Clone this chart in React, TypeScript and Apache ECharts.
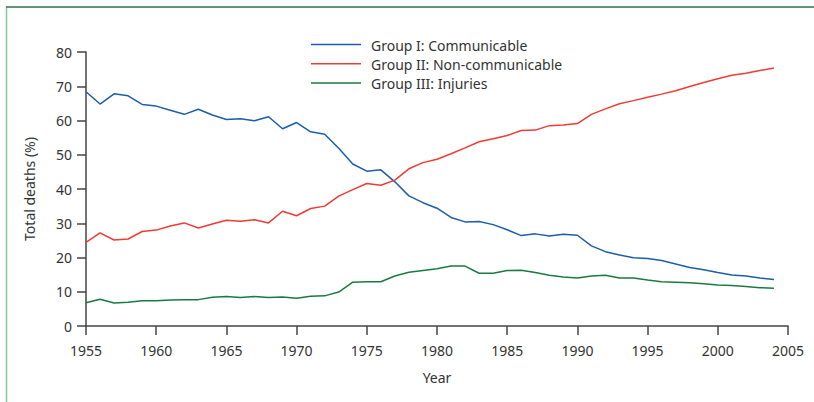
import React, { useEffect, useRef } from "react";
import * as echarts from "echarts";

const years: number[] = [];
for (let y = 1955; y <= 2004; y++) years.push(y);

const communicable = [
  68.4, 64.8, 67.8, 67.2, 64.7, 64.2, 63.0, 61.8, 63.3, 61.6,
  60.3, 60.5, 59.9, 61.1, 57.6, 59.4, 56.7, 56.0, 51.9, 47.3,
  45.2, 45.6, 42.1, 38.0, 36.0, 34.4, 31.7, 30.4, 30.5, 29.6,
  28.1, 26.4, 26.9, 26.3, 26.8, 26.5, 23.4, 21.7, 20.7, 19.9,
  19.7, 19.1, 18.1, 17.1, 16.4, 15.6, 14.9, 14.6, 14.0, 13.6,
];
const nonCommunicable = [
  24.4, 27.2, 25.1, 25.4, 27.6, 28.0, 29.2, 30.1, 28.6, 29.8,
  30.9, 30.6, 31.0, 30.1, 33.5, 32.2, 34.3, 35.0, 37.9, 39.8,
  41.6, 41.1, 42.6, 45.9, 47.7, 48.7, 50.3, 52.0, 53.8, 54.7,
  55.6, 57.1, 57.2, 58.5, 58.7, 59.1, 61.8, 63.4, 64.9, 65.8,
  66.8, 67.7, 68.7, 69.9, 71.1, 72.2, 73.2, 73.8, 74.6, 75.3,
];
const injuries = [
  6.8, 7.8, 6.7, 6.9, 7.4, 7.4, 7.6, 7.7, 7.7, 8.4,
  8.6, 8.3, 8.6, 8.3, 8.5, 8.1, 8.7, 8.8, 9.9, 12.8,
  12.9, 12.9, 14.6, 15.7, 16.2, 16.7, 17.5, 17.5, 15.4, 15.4,
  16.2, 16.3, 15.6, 14.8, 14.3, 14.0, 14.6, 14.8, 14.0, 14.0,
  13.4, 12.9, 12.8, 12.6, 12.3, 12.0, 11.8, 11.5, 11.2, 11.0,
];

const seriesNames = [
  "Group I: Communicable",
  "Group II: Non-communicable",
  "Group III: Injuries",
];
const seriesColors = ["#1b5eaa", "#ef3b33", "#1b7a43"];
const seriesData = [communicable, nonCommunicable, injuries];

const FONT = "'Noto Sans', 'DejaVu Sans', sans-serif";
const TEXT = "#333333";
const AXIS = "#444444";

export default function App() {
  const ref = useRef<HTMLDivElement>(null);
  useEffect(() => {
    if (!ref.current) return;
    const chart = echarts.init(ref.current, null, { renderer: "svg" });

    const legendGraphics: any[] = [];
    seriesNames.forEach((name, i) => {
      const y = 44.5 + i * 19.3;
      legendGraphics.push({
        type: "line",
        shape: { x1: 311, y1: y, x2: 361, y2: y },
        style: { stroke: seriesColors[i], lineWidth: 1.5 },
      });
      legendGraphics.push({
        type: "text",
        x: 371,
        y: y + 0.5,
        style: {
          text: name,
          fill: TEXT,
          font: `14px ${FONT}`,
          verticalAlign: "middle",
          align: "left",
        },
      });
    });

    chart.setOption({
      animation: false,
      backgroundColor: "#ffffff",
      textStyle: { fontFamily: FONT },
      grid: { left: 86, right: 26, top: 52, bottom: 76, containLabel: false },
      xAxis: {
        type: "value",
        min: 1955,
        max: 2005,
        interval: 5,
        name: "Year",
        nameLocation: "middle",
        nameGap: 44,
        nameTextStyle: { fontFamily: FONT, fontSize: 14, color: TEXT },
        axisLine: { show: true, lineStyle: { color: AXIS, width: 1.5 } },
        axisTick: { show: true, length: 9, lineStyle: { color: AXIS, width: 1.5 } },
        axisLabel: {
          margin: 17,
          fontFamily: FONT,
          fontSize: 14,
          color: TEXT,
          formatter: (v: number) => String(v),
        },
        splitLine: { show: false },
      },
      yAxis: {
        type: "value",
        min: 0,
        max: 80,
        interval: 10,
        name: "Total deaths (%)",
        nameLocation: "middle",
        nameGap: 50,
        nameTextStyle: { fontFamily: FONT, fontSize: 14, color: TEXT },
        axisLine: { show: true, lineStyle: { color: AXIS, width: 1.5 } },
        axisTick: { show: true, length: 9, lineStyle: { color: AXIS, width: 1.5 } },
        axisLabel: { margin: 14, fontFamily: FONT, fontSize: 14, color: TEXT },
        splitLine: { show: false },
      },
      series: seriesNames.map((name, i) => ({
        name,
        type: "line",
        symbol: "none",
        showSymbol: false,
        color: seriesColors[i],
        lineStyle: { color: seriesColors[i], width: 1.5 },
        data: years.map((y, j) => [y, seriesData[i][j]]),
      })),
      graphic: [
        {
          type: "line",
          shape: { x1: 6.5, y1: 7, x2: 6.5, y2: 402 },
          style: { stroke: "#86c5a5", lineWidth: 1.5 },
        },
        {
          type: "line",
          shape: { x1: 6, y1: 7, x2: 814, y2: 7 },
          style: { stroke: "#2f6f4f", lineWidth: 1.5 },
        },
        ...legendGraphics,
      ],
    });
    return () => chart.dispose();
  }, []);
  return (
    <div
      ref={ref}
      style={{ position: "fixed", left: 0, top: 0, width: 814, height: 402 }}
    />
  );
}
